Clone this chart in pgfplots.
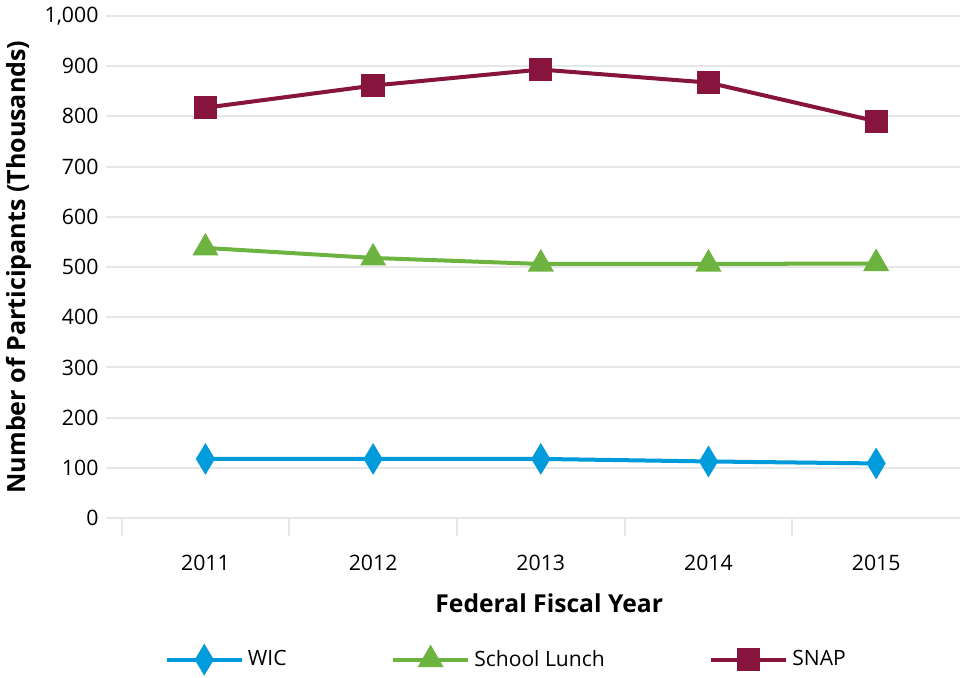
\documentclass[border=0pt]{standalone}
\usepackage{pgfplots}
\pgfplotsset{compat=1.18}
\usepackage{fontspec}
\setmainfont{Open Sans}
\definecolor{wic}{HTML}{009BDA}
\definecolor{lunch}{HTML}{6DB33F}
\definecolor{snap}{HTML}{86143C}
\definecolor{gridc}{HTML}{E6E7E8}
\begin{document}
\begin{tikzpicture}
\begin{axis}[
    scale only axis,
    width=418pt, height=250.5pt,
    xmin=-0.5, xmax=4.5,
    ymin=0, ymax=1000,
    axis line style={draw=none},
    tick pos=left,
    xtick={0,1,2,3,4},
    xticklabels={2011,2012,2013,2014,2015},
    x tick style={draw=none},
    x tick label style={yshift=-7pt},
    extra x ticks={-0.5,0.5,1.5,2.5,3.5},
    extra x tick labels={},
    extra x tick style={x tick style={draw=gridc, line width=1pt}, major tick length=9pt, tick align=outside, grid=none},
    ytick={0,100,...,1000},
    ymajorgrids,
    grid style={gridc, line width=1pt},
    y tick style={draw=gridc, line width=1pt},
    major tick length=8pt,
    tick align=outside,
    tick label style={font=\fontsize{10.6}{12}\selectfont},
    /pgf/number format/assume math mode=true,
    /pgf/number format/1000 sep={,},
    ylabel={\textbf{Number of Participants (Thousands)}},
    ylabel style={font=\fontsize{12.5}{14}\selectfont, at={(axis description cs:-0.122,0.5)}, anchor=center},
    xlabel={\textbf{Federal Fiscal Year}},
    xlabel style={font=\fontsize{12.3}{14}\selectfont, at={(axis description cs:0.51,0)}, anchor=center, yshift=-42.5pt},
    legend style={draw=none, at={(axis description cs:0.46,0)}, anchor=center, yshift=-70.5pt,
        legend columns=3, font=\fontsize{10.5}{12}\selectfont,
        /tikz/every even column/.append style={column sep=50pt}},
    legend image code/.code={\draw[mark repeat=2,mark phase=2] plot coordinates {(0cm,0cm)(0.66cm,0cm)(1.32cm,0cm)};},
]
\addplot[wic, line width=2pt, mark=diamond*, mark options={solid, xscale=0.8}, mark size=6pt]
    coordinates {(0,118) (1,118) (2,118) (3,113) (4,109)};
\addlegendentry{WIC}
\addplot[lunch, line width=2pt, mark=triangle*, mark size=5.5pt]
    coordinates {(0,538) (1,518) (2,506) (3,506) (4,507)};
\addlegendentry{School Lunch}
\addplot[snap, line width=2pt, mark=square*, mark size=4.8pt]
    coordinates {(0,817) (1,861) (2,893) (3,867) (4,790)};
\addlegendentry{SNAP}
\end{axis}
\end{tikzpicture}
\end{document}
